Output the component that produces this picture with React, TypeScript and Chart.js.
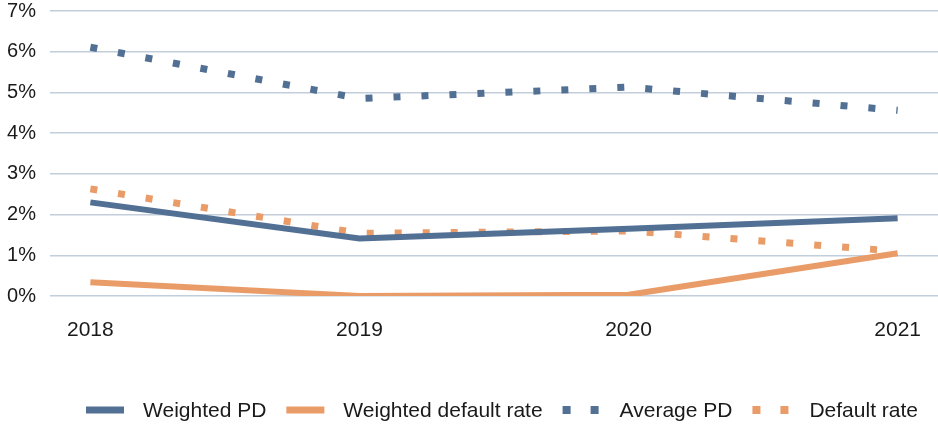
import React, { useEffect, useRef } from "react";
import { Chart, registerables } from "chart.js";

Chart.register(...registerables);

const categories = ["2018", "2019", "2020", "2021"];
const weightedPD = [2.3, 1.41, 1.65, 1.91];
const weightedDefaultRate = [0.34, 0.0, 0.03, 1.05];
const averagePD = [6.11, 4.85, 5.13, 4.56];
const defaultRate = [2.63, 1.54, 1.6, 1.1];
const yTicks = [0, 1, 2, 3, 4, 5, 6, 7];

const BLUE = "#527094";
const ORANGE = "#E99C68";
const FONT = "'Liberation Sans', Arial, sans-serif";
const TEXT = "#1a1a1a";

const legendItems = [
  { label: "Weighted PD", color: BLUE, dotted: false },
  { label: "Weighted default rate", color: ORANGE, dotted: false },
  { label: "Average PD", color: BLUE, dotted: true },
  { label: "Default rate", color: ORANGE, dotted: true },
];

const legendPlugin = {
  id: "customLegend",
  afterDraw(chart: any) {
    const ctx = chart.ctx;
    ctx.save();
    ctx.font = `21px ${FONT}`;
    ctx.textBaseline = "middle";
    ctx.textAlign = "left";
    const sw = 38, gapA = 19, gapB = 20;
    const widths = legendItems.map((it) => sw + gapA + ctx.measureText(it.label).width);
    const total = widths.reduce((a, b) => a + b, 0) + gapB * (legendItems.length - 1);
    let x = 502 - total / 2;
    const y = 410;
    legendItems.forEach((it, i) => {
      ctx.fillStyle = it.color;
      if (it.dotted) {
        ctx.fillRect(x, y - 4, 8, 8);
        ctx.fillRect(x + 28, y - 4, 8, 8);
      } else {
        ctx.fillRect(x, y - 3.5, sw, 7);
      }
      ctx.fillStyle = TEXT;
      ctx.fillText(it.label, x + sw + gapA, y + 1);
      x += widths[i] + gapB;
    });
    ctx.restore();
  },
};

const toPoints = (arr: number[]) => arr.map((v, i) => ({ x: i, y: v }));

export default function App() {
  const ref = useRef<HTMLCanvasElement>(null);
  useEffect(() => {
    if (!ref.current) return;
    const chart = new Chart(ref.current, {
      type: "line",
      data: {
        datasets: [
          {
            label: "Weighted PD",
            data: toPoints(weightedPD),
            borderColor: BLUE,
            backgroundColor: BLUE,
            borderWidth: 6,
            pointRadius: 0,
            tension: 0,
            borderCapStyle: "butt",
          },
          {
            label: "Weighted default rate",
            data: toPoints(weightedDefaultRate),
            borderColor: ORANGE,
            backgroundColor: ORANGE,
            borderWidth: 6,
            pointRadius: 0,
            tension: 0,
            borderCapStyle: "butt",
          },
          {
            label: "Average PD",
            data: toPoints(averagePD),
            borderColor: BLUE,
            backgroundColor: BLUE,
            borderWidth: 7,
            borderDash: [7, 21],
            pointRadius: 0,
            tension: 0,
            borderCapStyle: "butt",
          },
          {
            label: "Default rate",
            data: toPoints(defaultRate),
            borderColor: ORANGE,
            backgroundColor: ORANGE,
            borderWidth: 7,
            borderDash: [7, 21],
            pointRadius: 0,
            tension: 0,
            borderCapStyle: "butt",
          },
        ],
      },
      options: {
        responsive: false,
        animation: false,
        layout: { padding: { top: 11, right: 0, left: 0, bottom: 0 } },
        plugins: { legend: { display: false }, tooltip: { enabled: false } },
        scales: {
          x: {
            type: "linear",
            min: -0.15,
            max: 3.15,
            grid: { display: false, drawTicks: false },
            border: { display: false },
            afterBuildTicks: (scale: any) => {
              scale.ticks = categories.map((_, i) => ({ value: i }));
            },
            afterFit: (scale: any) => {
              scale.height = 128;
              scale.paddingLeft = 0;
              scale.paddingRight = 0;
            },
            ticks: {
              autoSkip: false,
              maxRotation: 0,
              padding: 22,
              color: TEXT,
              font: { family: FONT, size: 21 },
              callback: (v: any) => categories[Math.round(Number(v))] ?? "",
            },
          },
          y: {
            min: 0,
            max: 7,
            afterBuildTicks: (scale: any) => {
              scale.ticks = yTicks.map((v) => ({ value: v }));
            },
            afterFit: (scale: any) => {
              scale.width = 50;
              scale.paddingTop = 0;
              scale.paddingBottom = 0;
            },
            grid: { color: "#C3CEDC", lineWidth: 1.5, drawTicks: false },
            border: { display: false },
            ticks: {
              padding: 14,
              color: TEXT,
              font: { family: FONT, size: 20 },
              callback: (v: any) => `${v}%`,
            },
          },
        },
      },
      plugins: [legendPlugin],
    } as any);
    return () => chart.destroy();
  }, []);
  return (
    <div style={{ position: "absolute", left: 0, top: 0, width: 938, height: 424, background: "#fff" }}>
      <canvas ref={ref} width={938} height={424} />
    </div>
  );
}
